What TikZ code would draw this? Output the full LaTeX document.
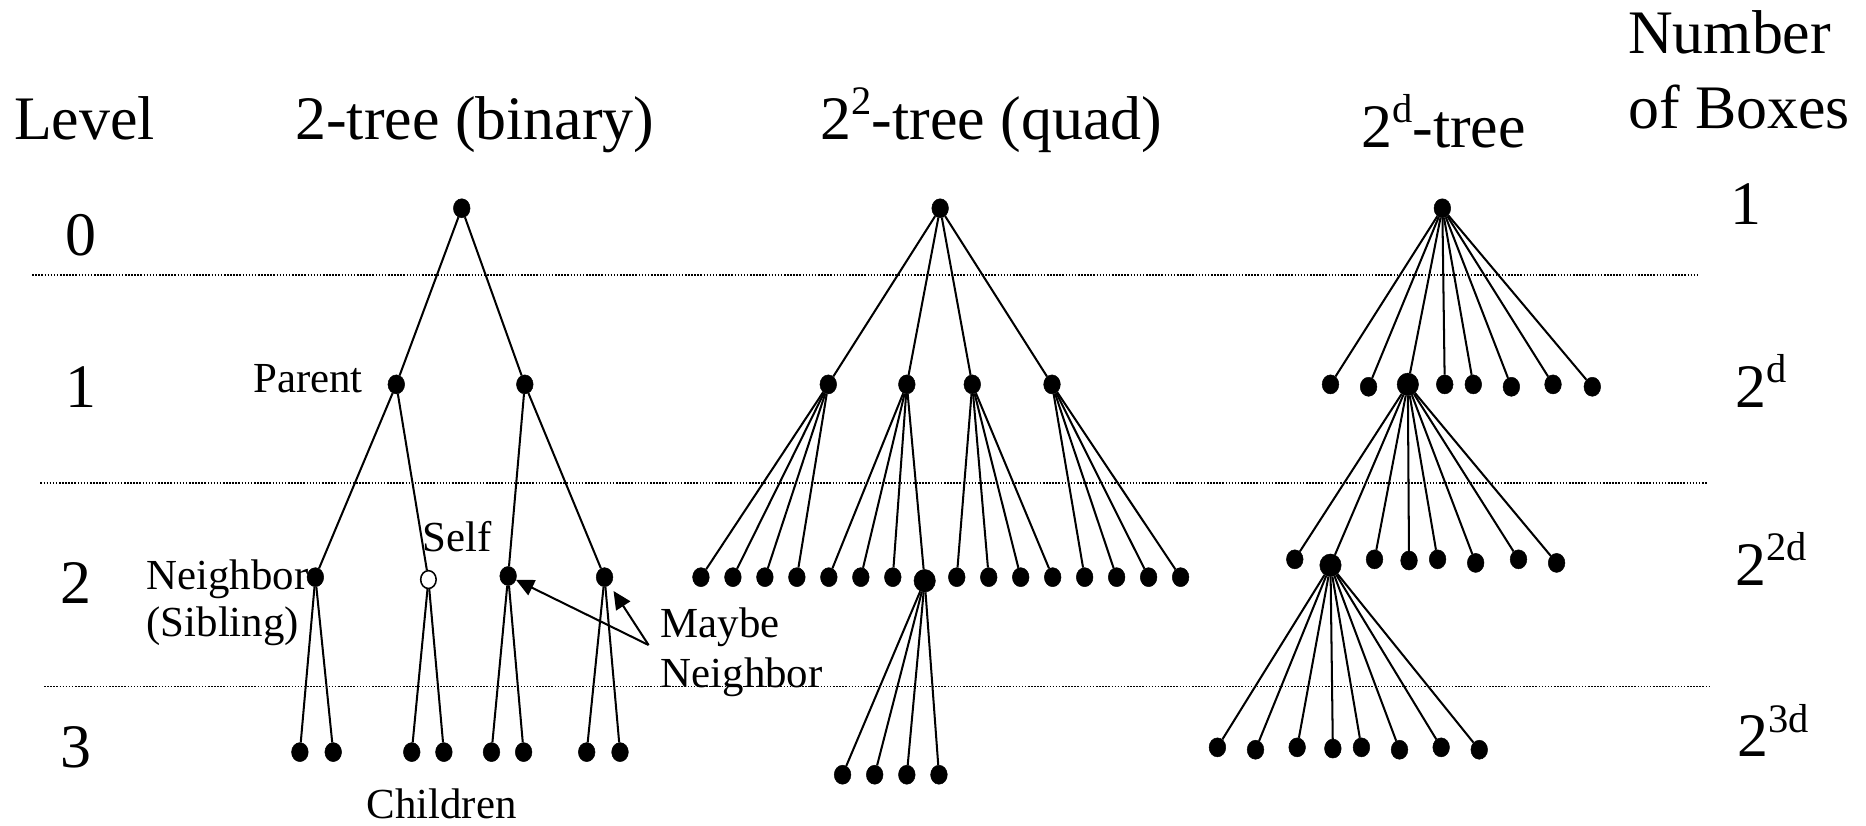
\documentclass[tikz,border=0pt]{standalone}
\usepackage{fontspec}
\setmainfont{Liberation Serif}
\usetikzlibrary{arrows.meta,shapes.geometric}
\newcommand\supx[1]{\raisebox{0.40em}{\fontsize{34}{34}\selectfont #1}}
\tikzset{
  dot/.style={ellipse, fill=black, draw=black, inner sep=0pt, minimum width=14pt, minimum height=16pt},
  bigdot/.style={dot, minimum width=18pt, minimum height=19pt},
  opendot/.style={ellipse, fill=white, draw=black, line width=1.3pt, inner sep=0pt, minimum width=13pt, minimum height=15pt},
  edge/.style={line width=1.7pt},
  arr/.style={line width=1.7pt, -{Triangle[length=15pt, width=14pt]}},
  dotline/.style={line width=1.3pt, dash pattern=on 1.3pt off 1.3pt},
  big/.style={font=\fontsize{52}{58}\selectfont, inner sep=0pt, anchor=base},
  small/.style={font=\fontsize{36}{40}\selectfont, inner sep=0pt},
}
\begin{document}
\begin{tikzpicture}[x=1pt, y=-1pt]
\useasboundingbox (0,0) rectangle (1568,694);

% headings
\node[big] (hlevel) at (71,117) {Level};
\node[big] (hbin) at (399,117) {2-tree (binary)};
\node[big] (hquad) at (833,117) {2\supx{2}-tree (quad)};
\node[big] (hd) at (1213,124) {2\supx{d}-tree};
\node[big, anchor=base west] (hnum) at (1368,45) {Number};
\node[big, anchor=base west] (hbox) at (1368,108) {of Boxes};

% level numbers
\node[big] (lv0) at (68,215) {0};
\node[big] (lv1) at (68,342) {1};
\node[big] (lv2) at (64,507) {2};
\node[big] (lv3) at (64,645) {3};

% number of boxes
\node[big] (nb0) at (1467,189) {1};
\node[big, anchor=base west] (nb1) at (1458,342) {2\supx{d}};
\node[big, anchor=base west] (nb2) at (1458,492) {2\supx{2d}};
\node[big, anchor=base west] (nb3) at (1460,636) {2\supx{3d}};

% dotted separators
\coordinate (s1a) at (27,231); \coordinate (s1b) at (1427,231);
\coordinate (s2a) at (34,406); \coordinate (s2b) at (1435,406);
\coordinate (s3a) at (37,577); \coordinate (s3b) at (1438,577);
\draw[dotline] (s1a) -- (s1b);
\draw[dotline] (s2a) -- (s2b);
\draw[dotline] (s3a) -- (s3b);

% ---------------- binary tree
\node[dot] (b0) at (388,175) {};
\node[dot] (b1a) at (333,323) {};
\node[dot] (b1b) at (441,323) {};
\node[dot] (b2a) at (265,485) {};
\node[opendot] (b2b) at (360,487) {};
\node[dot] (b2c) at (427,484) {};
\node[dot] (b2d) at (508,485) {};
\node[dot] (b3a1) at (252,632) {};
\node[dot] (b3a2) at (280,632) {};
\node[dot] (b3b1) at (346,632) {};
\node[dot] (b3b2) at (373,632) {};
\node[dot] (b3c1) at (413,632) {};
\node[dot] (b3c2) at (440,632) {};
\node[dot] (b3d1) at (493,632) {};
\node[dot] (b3d2) at (521,632) {};
\draw[edge] (b0) -- (b1a);
\draw[edge] (b0) -- (b1b);
\draw[edge] (b1a) -- (b2a);
\draw[edge] (b1a) -- (b2b);
\draw[edge] (b1b) -- (b2c);
\draw[edge] (b1b) -- (b2d);
\draw[edge] (b2a) -- (b3a1);
\draw[edge] (b2a) -- (b3a2);
\draw[edge] (b2b) -- (b3b1);
\draw[edge] (b2b) -- (b3b2);
\draw[edge] (b2c) -- (b3c1);
\draw[edge] (b2c) -- (b3c2);
\draw[edge] (b2d) -- (b3d1);
\draw[edge] (b2d) -- (b3d2);

\node[small, anchor=base east] (tparent) at (305,330) {Parent};
\node[small, anchor=base west] (tself) at (355,463) {Self};
\node[small, anchor=base west] (tnb) at (123,495) {Neighbor};
\node[small, anchor=base west] (tsib) at (123,535) {(Sibling)};
\node[small, anchor=base west] (tmaybe) at (555,536) {Maybe};
\node[small, anchor=base west] (tmnb) at (555,578) {Neighbor};
\node[small, anchor=base] (tchild) at (371,688) {Children};
\coordinate (mstart) at (545,542);
\draw[arr] (mstart) -- (b2c);
\draw[arr, shorten >=6pt] (mstart) -- (b2d);

% ---------------- quad tree
\node[dot] (q0) at (790,175) {};
\node[dot] (q1-1) at (696,323) {};
\node[dot] (q1-2) at (762,323) {};
\node[dot] (q1-3) at (817,323) {};
\node[dot] (q1-4) at (884,323) {};
\foreach \i in {1,...,16} {
  \pgfmathsetmacro\xx{589+(\i-1)*26.87}
  \ifnum\i=8
    \node[bigdot] (q2-\i) at (777,488) {};
  \else
    \node[dot] (q2-\i) at (\xx,485) {};
  \fi
}
\foreach \i in {1,...,4} \draw[edge] (q0) -- (q1-\i);
\foreach \i in {1,...,4} \draw[edge] (q1-1) -- (q2-\i);
\foreach \i in {5,...,8} \draw[edge] (q1-2) -- (q2-\i);
\foreach \i in {9,...,12} \draw[edge] (q1-3) -- (q2-\i);
\foreach \i in {13,...,16} \draw[edge] (q1-4) -- (q2-\i);
\node[dot] (q3-1) at (708,651) {};
\node[dot] (q3-2) at (735,651) {};
\node[dot] (q3-3) at (762,651) {};
\node[dot] (q3-4) at (789,651) {};
\foreach \i in {1,...,4} \draw[edge] (q2-8) -- (q3-\i);

% ---------------- 2^d tree
\node[dot] (d0) at (1212,175) {};
\node[dot] (d1-1) at (1118,323) {};
\node[dot] (d1-2) at (1150,325) {};
\node[bigdot] (d1-3) at (1183,323) {};
\node[dot] (d1-4) at (1214,323) {};
\node[dot] (d1-5) at (1238,323) {};
\node[dot] (d1-6) at (1270,325) {};
\node[dot] (d1-7) at (1305,323) {};
\node[dot] (d1-8) at (1338,325) {};
\foreach \i in {1,...,8} \draw[edge] (d0) -- (d1-\i);
\node[dot] (d2-1) at (1088,470) {};
\node[bigdot] (d2-2) at (1118,475) {};
\node[dot] (d2-3) at (1155,470) {};
\node[dot] (d2-4) at (1184,471) {};
\node[dot] (d2-5) at (1208,470) {};
\node[dot] (d2-6) at (1240,473) {};
\node[dot] (d2-7) at (1276,470) {};
\node[dot] (d2-8) at (1308,473) {};
\foreach \i in {1,...,8} \draw[edge] (d1-3) -- (d2-\i);
\node[dot] (d3-1) at (1023,628) {};
\node[dot] (d3-2) at (1055,630) {};
\node[dot] (d3-3) at (1090,628) {};
\node[dot] (d3-4) at (1120,629) {};
\node[dot] (d3-5) at (1144,628) {};
\node[dot] (d3-6) at (1176,630) {};
\node[dot] (d3-7) at (1211,628) {};
\node[dot] (d3-8) at (1243,630) {};
\foreach \i in {1,...,8} \draw[edge] (d2-2) -- (d3-\i);
\end{tikzpicture}
\end{document}
